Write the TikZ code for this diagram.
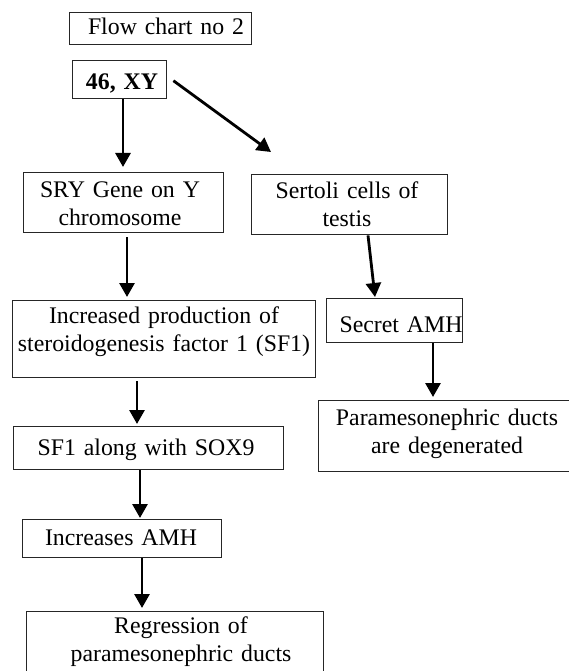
\documentclass[tikz,border=0pt]{standalone}
\usepackage{fontspec}
\setmainfont{Liberation Serif}
\usetikzlibrary{arrows.meta,calc}
\begin{document}
\begin{tikzpicture}[x=1pt,y=-1pt,
  box/.style={draw=black!85,line width=1.4pt,rectangle,anchor=north west,inner sep=0pt},
  txt/.style={anchor=base,text width=320pt,align=center,inner sep=0pt,font=\fontsize{23.8}{28.5}\selectfont},
  arr/.style={line width=2.8pt,-{Triangle[width=15pt,length=14pt]}}]
\useasboundingbox (0,0) rectangle (569,671);
\clip (0,0) rectangle (569,671);
\fill[white] (0,0) rectangle (569,671);
% boxes
\node[box,minimum width=182pt,minimum height=32pt] (b0) at (69,12) {};
\node[box,minimum width=94pt,minimum height=38pt] (b1) at (72,60) {};
\node[box,minimum width=200pt,minimum height=60pt] (b2) at (23,172) {};
\node[box,minimum width=196pt,minimum height=60pt] (b3) at (251,174) {};
\node[box,minimum width=303pt,minimum height=77pt] (b4) at (12,300) {};
\node[box,minimum width=136pt,minimum height=44pt] (b5) at (326,298) {};
\node[box,minimum width=260pt,minimum height=71pt] (b6) at (318,400) {};
\node[box,minimum width=270pt,minimum height=43pt] (b7) at (13,426) {};
\node[box,minimum width=199pt,minimum height=38pt] (b8) at (22,519) {};
\node[box,minimum width=297pt,minimum height=90pt] (b9) at (26,611) {};
% texts
\node[txt] (t0) at (166,35) {Flow chart no 2};
\node[txt] (t1) at (122,90) {\bfseries 46, XY};
\node[txt] (t2) at (120,197) {SRY Gene on Y\\chromosome};
\node[txt] (t3) at (347,198) {Sertoli cells of\\testis};
\node[txt] (t4) at (164,323) {Increased production of\hspace*{32pt}\\steroidogenesis factor 1 (SF1)};
\node[txt] (t5) at (401,332) {Secret AMH};
\node[txt] (t6) at (447,425) {Paramesonephric ducts\\are degenerated};
\node[txt] (t7) at (146,455) {SF1 along with SOX9};
\node[txt] (t8) at (121,545) {Increases AMH};
\node[txt] (t9) at (181,633) {Regression of\\paramesonephric ducts};
% arrows
\draw[arr] ($(b1.south west)+(51,0)$) -- ($(b2.north west)+(100,-5)$);
\draw[arr] ($(b1.east)+(6,1)$) -- ($(b3.north west)+(20,-22)$);
\draw[arr] ($(b2.south west)+(104,4)$) -- ($(b4.north west)+(115,-3)$);
\draw[arr] ($(b3.south west)+(117,0)$) -- ($(b5.north west)+(49,-1)$);
\draw[arr] ($(b5.south west)+(107,0)$) -- ($(b6.north west)+(115,-3)$);
\draw[arr] ($(b4.south west)+(125,3)$) -- ($(b7.north west)+(124,-2)$);
\draw[arr] ($(b7.south west)+(127,0)$) -- ($(b8.north west)+(118,-1)$);
\draw[arr] ($(b8.south west)+(120,0)$) -- ($(b9.north west)+(116,-3)$);
\end{tikzpicture}
\end{document}
